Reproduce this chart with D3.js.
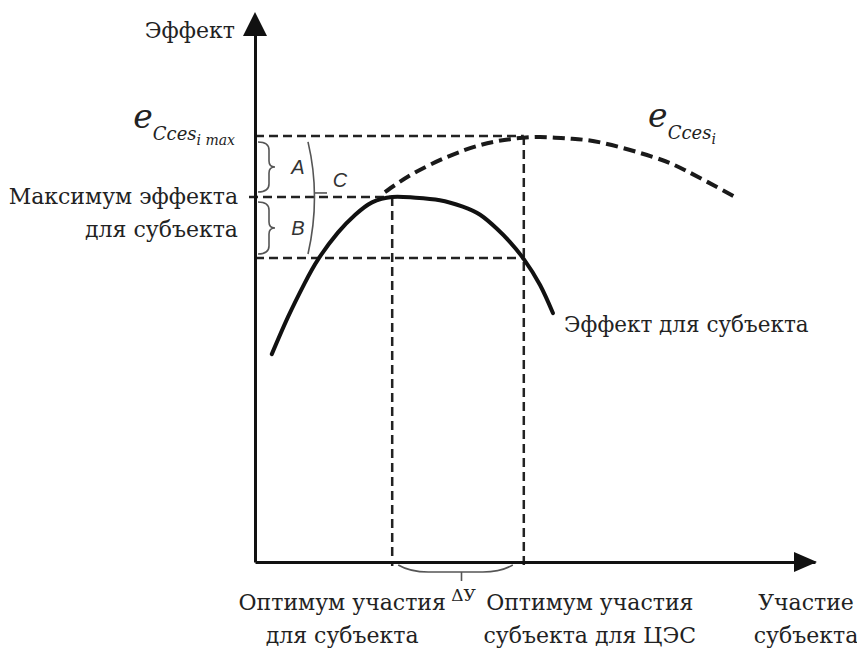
<!DOCTYPE html>
<html>
<head>
<meta charset="utf-8">
<script src="https://cdn.jsdelivr.net/npm/d3@7"></script>
<style>
  body { margin: 0; background: #fff; }
  text { fill: #222; }
</style>
</head>
<body>
<div id="chart"></div>
<script>
// DATA (axis units, 0..100 on both axes)
const subjectX = [3.0, 5.9, 8.9, 11.3, 14.8, 17.9, 20.9, 24.5, 28.2, 33.0, 37.1, 40.2, 43.2, 45.5, 48.0, 50.9, 53.2];
const subjectY = [38.5, 45.4, 51.7, 56.1, 61.0, 64.3, 66.6, 67.6, 67.5, 67.0, 65.8, 64.3, 61.7, 59.3, 56.1, 51.3, 46.1];
const cesX = [23.2, 28.2, 34.3, 40.2, 45.5, 50.9, 56.25, 62.1, 71.1, 77.1, 86.1];
const cesY = [68.5, 71.9, 75.0, 77.2, 78.3, 78.7, 78.4, 77.6, 75.0, 72.4, 67.4];
const levelY = [78.9, 67.6, 56.3];      // e max, max for subject, subject at CES optimum
const optimumX = [24.5, 48.0];          // optimum for subject, optimum for CES
const xLabels = [["Оптимум участия", "для субъекта"], ["Оптимум участия", "субъекта для ЦЭС"]];
const axisLabelX = ["Участие", "субъекта"];
const axisLabelY = "Эффект";
const leftLabel = ["Максимум эффекта", "для субъекта"];
const curveLabel = "Эффект для субъекта";

const width = 857, height = 653;

// SCALE
const xScale = d3.scaleLinear().domain([0, 100]).range([255, 815]);
const yScale = d3.scaleLinear().domain([0, 100]).range([562, 22]);

const svg = d3.select("#chart")
    .append("svg")
    .attr("width", width)
    .attr("height", height)
    .style("font-family", "'DejaVu Serif', serif");

// DASHED GUIDES
const guides = svg.append("g")
    .attr("stroke", "#222")
    .attr("stroke-width", 2.5)
    .attr("stroke-dasharray", "9,5");

guides.selectAll("line.h")
    .data(levelY)
    .join("line")
    .attr("class", "h")
    .attr("x1", (d, i) => i == 1 ? xScale(0) - 6 : xScale(0))
    .attr("x2", (d, i) => i == 1 ? xScale(optimumX[0]) : xScale(optimumX[1]))
    .attr("y1", d => yScale(d))
    .attr("y2", d => yScale(d));

guides.selectAll("line.v")
    .data(optimumX)
    .join("line")
    .attr("class", "v")
    .attr("x1", d => xScale(d))
    .attr("x2", d => xScale(d))
    .attr("y1", (d, i) => i == 0 ? yScale(levelY[1]) : yScale(levelY[0]))
    .attr("y2", yScale(0) + 4);

// CURVES
const line = d3.line()
    .x(d => xScale(d[0]))
    .y(d => yScale(d[1]))
    .curve(d3.curveNatural);

svg.append("path")
    .attr("d", line(d3.zip(cesX, cesY)))
    .attr("fill", "none")
    .attr("stroke", "#1a1a1a")
    .attr("stroke-width", 4)
    .attr("stroke-dasharray", "12,6");

svg.append("path")
    .attr("d", line(d3.zip(subjectX, subjectY)))
    .attr("fill", "none")
    .attr("stroke", "#111")
    .attr("stroke-width", 4)
    .attr("stroke-linecap", "round");

// AXES
svg.append("g")
    .attr("transform", `translate(0, ${yScale(0)})`)
    .call(d3.axisBottom(xScale).tickValues([]).tickSizeOuter(0))
    .select(".domain").attr("stroke", "#111").attr("stroke-width", 3);

svg.append("g")
    .attr("transform", `translate(${xScale(0)}, 0)`)
    .call(d3.axisLeft(yScale).tickValues([]).tickSizeOuter(0))
    .select(".domain").attr("stroke", "#111").attr("stroke-width", 3);

// arrow heads
const x0 = xScale(0), y0 = yScale(0), xEnd = xScale(100) + 2, yEnd = yScale(100) - 10;
svg.append("path")
    .attr("d", `M${xEnd},${y0} L${xEnd - 23},${y0 - 10} L${xEnd - 23},${y0 + 10} Z`)
    .attr("fill", "#111");
svg.append("path")
    .attr("d", `M${x0},${yEnd} L${x0 - 12},${yEnd + 24} L${x0 + 12},${yEnd + 24} Z`)
    .attr("fill", "#111");

// BRACES
const braces = svg.append("g")
    .attr("fill", "none")
    .attr("stroke", "#555")
    .attr("stroke-width", 1.6);

function curly(x, top, bot, w) {
    const mid = (top + bot) / 2;
    return `M${x},${top} Q${x + w},${top} ${x + w},${top + 8} L${x + w},${mid - 6} Q${x + w},${mid} ${x + w + 6},${mid}` +
           ` Q${x + w},${mid} ${x + w},${mid + 6} L${x + w},${bot - 8} Q${x + w},${bot} ${x},${bot}`;
}
const yA = yScale(levelY[0]), yB = yScale(levelY[1]), yC = yScale(levelY[2]);
braces.append("path").attr("d", curly(x0 + 3, yA + 6, yB - 5, 11));
braces.append("path").attr("d", curly(x0 + 3, yB + 5, yC - 4, 11));
// C paren
braces.append("path")
    .attr("d", `M${x0 + 53},${yA + 6} Q${x0 + 66},${(yA + yC) / 2} ${x0 + 53},${yC - 4}`);
braces.append("line")
    .attr("x1", x0 + 60).attr("x2", x0 + 72)
    .attr("y1", (yA + yC) / 2 - 4).attr("y2", (yA + yC) / 2 - 4);
// delta brace under x axis
const xa = xScale(optimumX[0]) + 6, xb = xScale(optimumX[1]) - 11, xm = (xa + xb) / 2;
braces.append("path")
    .attr("d", `M${xa},${y0 + 3} Q${xa + 12},${y0 + 10} ${xa + 30},${y0 + 10} L${xb - 30},${y0 + 10} Q${xb - 12},${y0 + 10} ${xb},${y0 + 3}`);
braces.append("line")
    .attr("x1", xm + 6).attr("x2", xm + 6)
    .attr("y1", y0 + 10).attr("y2", y0 + 19);

// LETTERS A B C
function letter(x, y, s) {
    svg.append("text").attr("x", x).attr("y", y)
        .attr("text-anchor", "middle")
        .style("font-family", "'Liberation Sans', Arial, sans-serif")
        .style("font-style", "italic")
        .style("font-size", "20px")
        .style("fill", "#333")
        .text(s);
}
letter(x0 + 43, (yA + yB) / 2 + 8, "A");
letter(x0 + 43, (yB + yC) / 2 + 8, "B");
letter(x0 + 85, (yA + yC) / 2 - 10, "C");

// TEXT LABELS
const fs = "22px";
svg.append("text").attr("x", x0 - 20).attr("y", 38).attr("text-anchor", "end")
    .style("font-size", fs).text(axisLabelY);

svg.selectAll("text.left")
    .data(leftLabel)
    .join("text")
    .attr("class", "left")
    .attr("x", x0 - 17)
    .attr("y", (d, i) => yB + 7 + i * 33)
    .attr("text-anchor", "end")
    .style("font-size", fs)
    .text(d => d);

svg.append("text").attr("x", xScale(55.2)).attr("y", 332)
    .style("font-size", "21.5px").text(curveLabel);

optimumX.forEach((ox, k) => {
    svg.selectAll("text.opt" + k)
        .data(xLabels[k])
        .join("text")
        .attr("class", "opt" + k)
        .attr("x", k == 0 ? xScale(ox) - 50 : xScale(ox) + 66)
        .attr("y", (d, i) => 610 + i * 33)
        .attr("text-anchor", "middle")
        .style("font-size", fs)
        .text(d => d);
});

svg.selectAll("text.ax")
    .data(axisLabelX)
    .join("text")
    .attr("class", "ax")
    .attr("x", 806)
    .attr("y", (d, i) => 610 + i * 33)
    .attr("text-anchor", "middle")
    .style("font-size", fs)
    .text(d => d);

svg.append("text").attr("x", xm + 8).attr("y", 601).attr("text-anchor", "middle")
    .style("font-size", "17px").text("ΔУ");

// MATH LABELS
function mathLabel(x, y, sub, extra, anchor) {
    const t = svg.append("text").attr("x", x).attr("y", y)
        .attr("text-anchor", anchor)
        .style("font-family", "'DejaVu Serif', serif").style("font-style", "italic");
    t.append("tspan").style("font-size", "33px").text("e");
    t.append("tspan").style("font-size", "18px").attr("dy", 12).text(sub);
    t.append("tspan").style("font-size", "14px").attr("dy", 5).text(extra);
}
mathLabel(x0 - 20, 128, "Cces", "i max", "end");
mathLabel(xScale(70.2), 127, "Cces", "i", "start");
</script>
</body>
</html>
